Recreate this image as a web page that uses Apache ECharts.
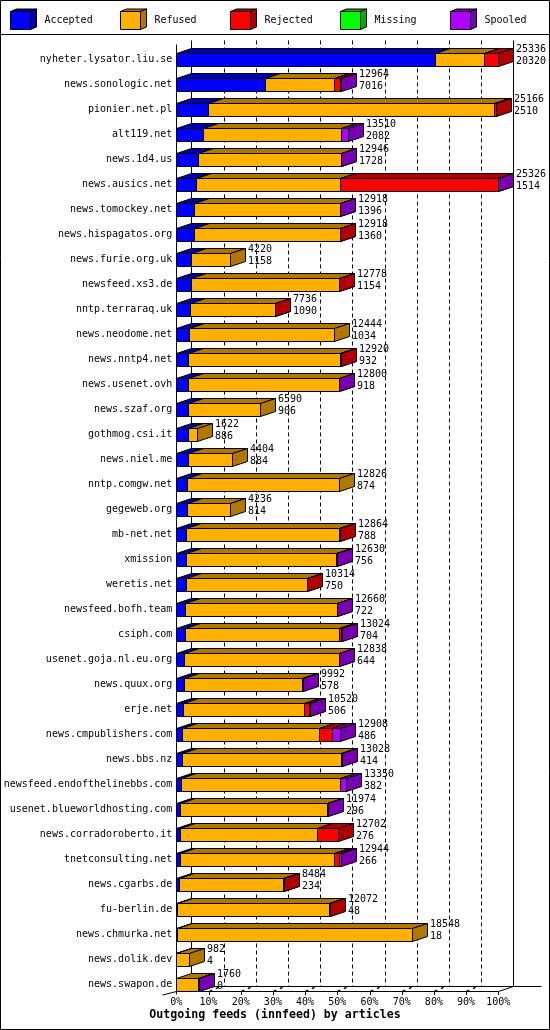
<!DOCTYPE html>
<html><head><meta charset="utf-8">
<script src="https://cdn.jsdelivr.net/npm/echarts@6/dist/echarts.min.js"></script>
<style>html,body{margin:0;padding:0;background:#fff}#c{width:550px;height:1030px}</style>
</head><body><div id="c"></div>
<script>
const hosts = ['nyheter.lysator.liu.se','news.sonologic.net','pionier.net.pl','alt119.net','news.1d4.us','news.ausics.net','news.tomockey.net','news.hispagatos.org','news.furie.org.uk','newsfeed.xs3.de','nntp.terraraq.uk','news.neodome.net','news.nntp4.net','news.usenet.ovh','news.szaf.org','gothmog.csi.it','news.niel.me','nntp.comgw.net','gegeweb.org','mb-net.net','xmission','weretis.net','newsfeed.bofh.team','csiph.com','usenet.goja.nl.eu.org','news.quux.org','erje.net','news.cmpublishers.com','news.bbs.nz','newsfeed.endofthelinebbs.com','usenet.blueworldhosting.com','news.corradoroberto.it','tnetconsulting.net','news.cgarbs.de','fu-berlin.de','news.chmurka.net','news.dolik.dev','news.swapon.de'];
const accepted = [20320,7016,2510,2082,1728,1514,1396,1360,1158,1154,1090,1034,932,918,906,886,884,874,814,788,756,750,722,704,644,578,506,486,414,382,296,276,266,234,48,18,4,0];
const refused  = [3911,5360,22486,10850,11213,11400,11519,11555,3062,11620,6640,11410,11983,11852,5684,736,3520,11952,3422,12026,11804,9559,11898,12120,12174,9324,9539,10749,12534,12533,11528,10828,12177,8200,11999,18530,978,1680];
const rejected = [1105,470,170,0,0,12366,0,3,0,4,6,0,5,0,0,0,0,0,0,50,0,5,0,100,0,0,370,1024,0,0,0,1598,368,50,25,0,0,0];
const missing  = [0,0,0,0,0,0,0,0,0,0,0,0,0,0,0,0,0,0,0,0,0,0,0,0,0,0,0,0,0,0,0,0,0,0,0,0,0,0];
const spooled  = [0,118,0,578,5,46,3,0,0,0,0,0,0,30,0,0,0,0,0,0,70,0,40,100,20,90,105,649,80,435,150,0,133,0,0,0,0,80];
const seriesNames = ['Accepted','Refused','Rejected','Missing','Spooled'];
const titleText = 'Outgoing feeds (innfeed) by articles';

const frontColors = ['#0000ff','#ffb000','#ff0000','#00ff00','#b000ff'];
const darkColors  = ['#0000b0','#b07800','#b00000','#00b000','#7800b0'];
const FONT = '10px "DejaVu Sans Mono"';
const DX = 15, DY = 5, FT = 6.3, FB = 6.2;

const parts = [accepted, refused, rejected, missing, spooled];
const N = hosts.length;
const totals = hosts.map((h, i) => parts.reduce((s, p) => s + p[i], 0));
const maxTotal = Math.max(...totals);
const pct = v => v / maxTotal * 100;

const px = v => Math.round(v) + 0.5;

function box(x0, x1, yt, yb, front, dark) {
  const st = (f) => ({fill: f, stroke: '#000', lineWidth: 1});
  return [
    {type:'rect', shape:{x:x0, y:yt, width:x1-x0, height:yb-yt}, style: st(front)},
    {type:'polygon', shape:{points:[[x0,yt],[x1,yt],[x1+DX,yt-DY],[x0+DX,yt-DY]]}, style: st(dark)},
    {type:'polygon', shape:{points:[[x1,yt],[x1+DX,yt-DY],[x1+DX,yb-DY],[x1,yb]]}, style: st(dark)}
  ];
}

const series = [];

// frame: walls, dashed grid lines, ticks
series.push({
  type: 'custom', name: 'frame', coordinateSystem: 'cartesian2d', clip: false, silent: true, z: 1,
  data: [[0, 0]],
  renderItem: function (params, api) {
    const xL = px(api.coord([0, 0])[0]);
    const xR = px(api.coord([100, 0])[0]);
    const yFirst = api.coord([0, 0])[1];
    const yLast = api.coord([0, N - 1])[1];
    const yF = px(yLast + FB);
    const yB = yF - DY;
    const yTop = px(yFirst - 19);
    const ls = {stroke: '#000', lineWidth: 1};
    const ch = [];
    const line = (x1, y1, x2, y2, extra) => ch.push({type:'line', shape:{x1, y1, x2, y2}, style: Object.assign({}, ls, extra || {})});
    for (let t = 10; t < 100; t += 10) {
      const x = px(api.coord([t, 0])[0]) + DX;
      line(x, yTop, x, yB, {lineDash: [4, 3]});
    }
    line(xL, yTop + 4, xL, yF + 3);
    line(xL + DX, yTop, xL + DX, yB);
    line(xR + DX, yTop, xR + DX, yB);
    line(xL, yF, xR, yF);
    line(xL + DX, yB, xR + DX + 28, yB);
    line(xL - 14, yF + 3.5, xL, yF);
    line(xR, yF, xR + DX, yB);
    for (let t = 10; t <= 100; t += 10) {
      const x = px(api.coord([t, 0])[0]);
      line(x, yF, x, yF + 3.5);
      if (t < 100) line(x, yF, x + 10, yF - 4.5, {lineDash: [3, 4], lineWidth: 1.5});
    }
    return {type: 'group', children: ch};
  }
});

// stacked 3D bar segments
parts.forEach((arr, k) => {
  const data = [];
  for (let i = 0; i < N; i++) {
    let start = 0;
    for (let j = 0; j < k; j++) start += parts[j][i];
    if (arr[i] > 0) data.push([pct(start), pct(start + arr[i]), i]);
  }
  series.push({
    type: 'custom', name: seriesNames[k], coordinateSystem: 'cartesian2d', clip: false, z: 2,
    encode: {x: [0, 1], y: 2},
    data: data,
    renderItem: function (params, api) {
      const a = api.coord([api.value(0), api.value(2)]);
      const b = api.coord([api.value(1), api.value(2)]);
      const yc = a[1];
      return {type: 'group', children: box(px(a[0]), px(b[0]), px(yc - FT), px(yc + FB), frontColors[k], darkColors[k])};
    }
  });
});

// value labels: total / accepted
series.push({
  type: 'custom', name: 'labels', coordinateSystem: 'cartesian2d', clip: false, z: 3, silent: true,
  encode: {x: 0, y: 1},
  data: hosts.map((h, i) => [pct(totals[i]), i, totals[i], accepted[i]]),
  renderItem: function (params, api) {
    const p = api.coord([api.value(0), api.value(1)]);
    return {type: 'text', style: {
      text: api.value(2) + '\n' + api.value(3),
      x: Math.round(p[0]) + DX + 3, y: p[1] - 3.9,
      font: FONT, fill: '#000', lineHeight: 11.3,
      textAlign: 'left', textVerticalAlign: 'middle', verticalAlign: 'middle', align: 'left'
    }};
  }
});

// legend with 3D cubes
const graphics = [
  {type:'rect', shape:{x:0.5, y:0.5, width:549, height:1029}, style:{fill:'none', stroke:'#000', lineWidth:1}, z: 10},
  {type:'line', shape:{x1:0, y1:34.5, x2:550, y2:34.5}, style:{stroke:'#000', lineWidth:1}, z: 10}
];
seriesNames.forEach((nm, k) => {
  const x0 = 10.5 + 110 * k, x1 = x0 + 20, yt = 11.5, yb = 29.5;
  const d = 6, e = 2.5;
  const st = f => ({fill: f, stroke: '#000', lineWidth: 1});
  graphics.push({type:'rect', shape:{x:x0, y:yt, width:x1-x0, height:yb-yt}, style: st(frontColors[k]), z: 10});
  graphics.push({type:'polygon', shape:{points:[[x0,yt],[x1,yt],[x1+d,yt-e],[x0+d,yt-e]]}, style: st(darkColors[k]), z: 10});
  graphics.push({type:'polygon', shape:{points:[[x1,yt],[x1+d,yt-e],[x1+d,yb-e],[x1,yb]]}, style: st(darkColors[k]), z: 10});
  graphics.push({type:'text', x: 44.5 + 110 * k, y: 20.5, style:{text: nm, font: FONT, fill:'#000', textVerticalAlign:'middle', verticalAlign:'middle'}, z: 10});
});

const chart = echarts.init(document.getElementById('c'), null, {renderer: 'canvas'});
chart.setOption({
  animation: false,
  backgroundColor: '#fff',
  title: {text: titleText, left: 'center', top: 1009, padding: 0,
    textStyle: {fontFamily: 'DejaVu Sans Mono', fontWeight: 'bold', fontSize: 11.6, color: '#000'}},
  grid: {left: 176.3, right: 51.7, top: 46.8, bottom: 33.2, containLabel: false},
  xAxis: {type: 'value', min: 0, max: 100, interval: 10,
    axisLine: {show: false}, axisTick: {show: false}, splitLine: {show: false},
    axisLabel: {formatter: '{value}%', margin: 1, fontFamily: 'DejaVu Sans Mono', fontSize: 10, color: '#000'}},
  yAxis: {type: 'category', data: hosts, inverse: true,
    axisLine: {show: false}, axisTick: {show: false}, splitLine: {show: false},
    axisLabel: {margin: 4, fontFamily: 'DejaVu Sans Mono', fontSize: 10, color: '#000', interval: 0}},
  graphic: graphics,
  series: series
});
</script></body></html>
